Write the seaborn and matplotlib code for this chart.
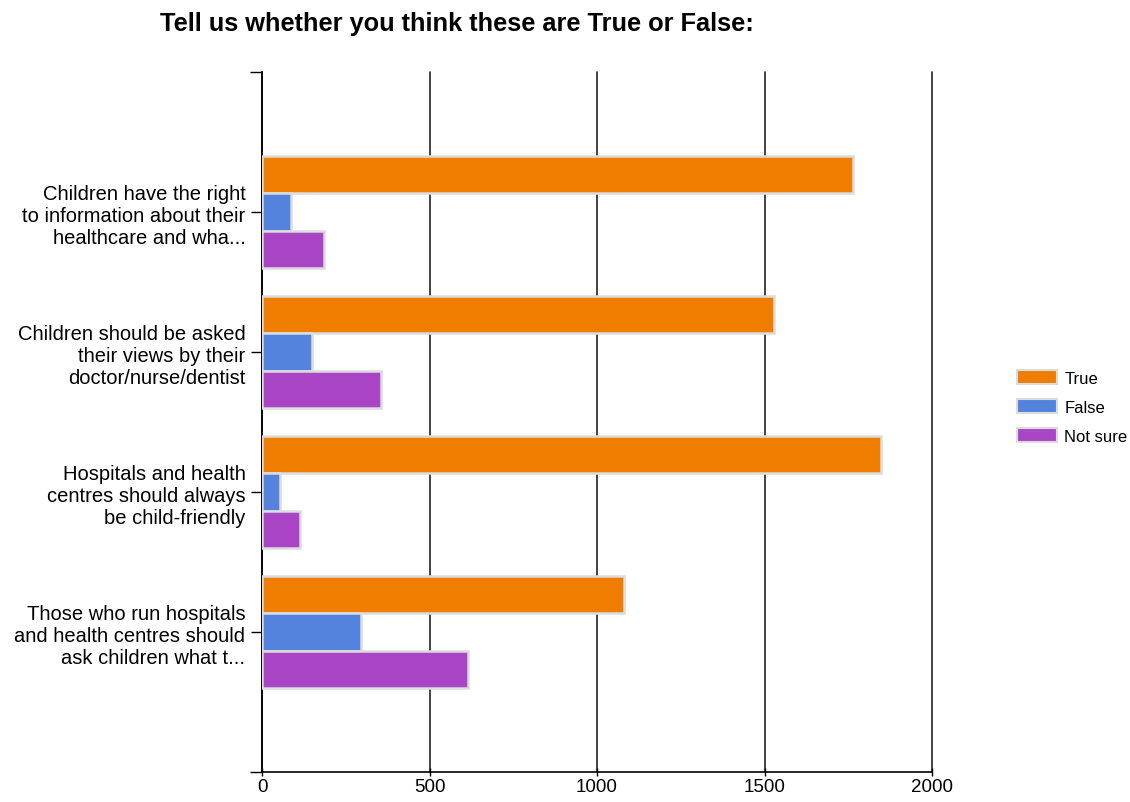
import matplotlib.pyplot as plt
import pandas as pd
import seaborn as sns
from matplotlib.patches import Patch

# ==========================
# DATOS
# ==========================
preguntas = [
    "Children have the right\nto information about their\nhealthcare and wha...",
    "Children should be asked\ntheir views by their\ndoctor/nurse/dentist",
    "Hospitals and health\ncentres should always\nbe child-friendly",
    "Those who run hospitals\nand health centres should\nask children what t...",
]
respuestas = ["True", "False", "Not sure"]
valores_true = [1765, 1527, 1847, 1080]
valores_false = [85, 150, 55, 295]
valores_notsure = [185, 355, 112, 615]
xticks = [0, 500, 1000, 1500, 2000]

colores = ["#EE7D00", "#5483DE", "#AA45C6"]

df = pd.DataFrame({
    "pregunta": preguntas * 3,
    "respuesta": sum([[r] * len(preguntas) for r in respuestas], []),
    "valor": valores_true + valores_false + valores_notsure,
})

# ==========================
# FIGURA
# ==========================
sns.set_style("white")
plt.rcParams['font.family'] = ['Liberation Sans', 'DejaVu Sans']
plt.rcParams['text.color'] = 'black'
plt.rcParams['xtick.color'] = 'black'
plt.rcParams['ytick.color'] = 'black'

fig = plt.figure(figsize=(11.3, 8.03), dpi=100)
ax = fig.add_axes([0.2319, 0.0374, 0.5929, 0.8717])

sns.barplot(data=df, y="pregunta", x="valor", hue="respuesta",
            hue_order=respuestas, order=preguntas, palette=colores,
            orient="h", width=0.8, edgecolor="#dcdcdc", linewidth=1.8,
            saturation=1, ax=ax, legend=False, zorder=3)

ax.set_xlim(0, 2000)
ax.set_ylim(len(preguntas), -1)
ax.set_xticks(xticks)
ax.set_xticklabels([str(t) for t in xticks], fontsize=13.5)
for lbl in ax.get_yticklabels():
    lbl.set_linespacing(1.18)
ax.tick_params(axis="y", labelsize=14.5, length=8, width=1, left=True, pad=4)
ax.tick_params(axis="x", length=6, width=1, bottom=True, direction="inout", pad=1)
ax.set_yticks([-1, len(preguntas)], minor=True)
ax.tick_params(axis="y", which="minor", length=9, width=1, left=True)
ax.set_xlabel("")
ax.set_ylabel("")

ax.grid(axis="x", color="#222222", linewidth=1.2, zorder=0)
ax.grid(axis="y", visible=False)
for line in ax.get_xgridlines():
    line.set_clip_on(False)
for s in ["top", "right"]:
    ax.spines[s].set_visible(False)
for s in ["left", "bottom"]:
    ax.spines[s].set_color("black")
    ax.spines[s].set_linewidth(1.2)

fig.text(160 / 1130, 1 - 24 / 803, "Tell us whether you think these are True or False:",
         fontsize=18.3, fontweight="bold", ha="left", va="center")

handles = [Patch(facecolor=c, edgecolor="#dcdcdc", linewidth=1.5, label=r)
           for c, r in zip(colores, respuestas)]
fig.legend(handles=handles, loc="center left", bbox_to_anchor=(1017 / 1130, 1 - 408 / 803),
           frameon=False, fontsize=12, handlelength=2.4, handleheight=0.9,
           labelspacing=0.8, handletextpad=0.45, borderpad=0, borderaxespad=0)

fig.savefig("out.png", dpi=100)
